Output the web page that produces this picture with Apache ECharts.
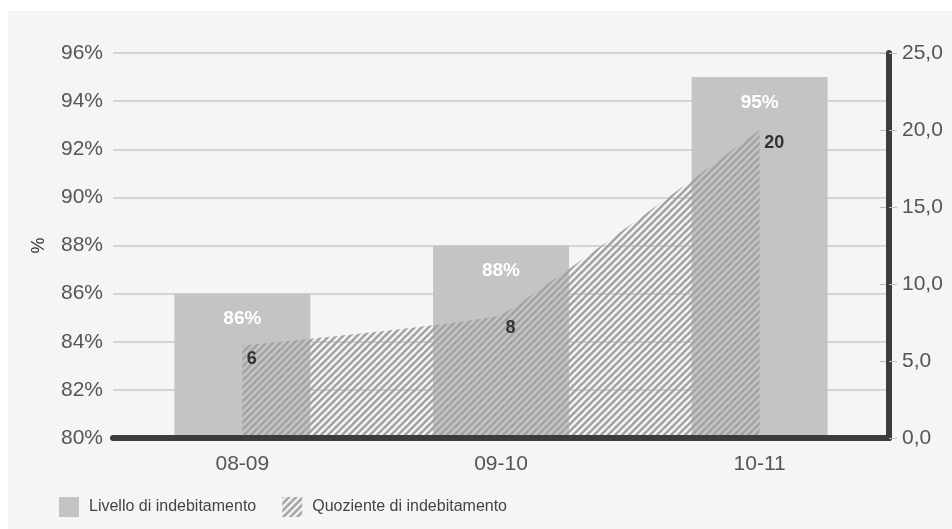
<!DOCTYPE html>
<html>
<head>
<meta charset="utf-8">
<script src="https://cdn.jsdelivr.net/npm/echarts@6/dist/echarts.min.js"></script>
<style>
  html, body { margin: 0; padding: 0; background: #ffffff; }
  #panel { position: absolute; left: 8px; top: 11px; width: 944px; height: 518px; background: #f5f5f5; }
  #chart { position: absolute; left: 0; top: 0; width: 952px; height: 529px; }
</style>
</head>
<body>
<div id="panel"></div>
<div id="chart"></div>
<script>
// Years on the category axis
const categories = ['08-09', '09-10', '10-11'];
// Debt level (%), left axis
const livello = [86, 88, 95];
// Debt ratio, right axis
const quoziente = [6, 8, 20];
// Axis ranges and steps
const leftAxis = { min: 80, max: 96, step: 2 };
const rightAxis = { min: 0, max: 25, step: 5 };

const FONT = '"Liberation Sans", Arial, Helvetica, sans-serif';

// Diagonal hatch tile used for the ratio area and its legend icon
function hatchTile() {
  const s = 7;
  const c = document.createElement('canvas');
  c.width = s; c.height = s;
  const g = c.getContext('2d');
  g.strokeStyle = '#a3a3a3';
  g.lineWidth = 2.6;
  g.lineCap = 'square';
  for (let k = -1; k <= 1; k++) {
    g.beginPath();
    g.moveTo(k * s, s);
    g.lineTo(k * s + s, 0);
    g.stroke();
  }
  return c;
}
const hatch = { image: hatchTile(), repeat: 'repeat' };

const chart = echarts.init(document.getElementById('chart'), null, { renderer: 'canvas' });

chart.setOption({
  backgroundColor: 'transparent',
  animation: false,
  textStyle: { fontFamily: FONT },
  grid: { left: 113, right: 63, top: 53, bottom: 91, containLabel: false },
  legend: {
    left: 59, top: 497, padding: 0,
    itemWidth: 20, itemHeight: 20, itemGap: 26,
    textStyle: { fontFamily: FONT, fontSize: 16, color: '#444', padding: [0, 0, 0, 5] },
    data: [
      { name: 'Livello di indebitamento', icon: 'rect', itemStyle: { color: '#c4c4c4', opacity: 1 } },
      { name: 'Quoziente di indebitamento', icon: 'rect', itemStyle: { color: hatch, opacity: 1 } }
    ]
  },
  xAxis: {
    type: 'category',
    data: categories,
    z: 10,
    axisLine: { show: true, lineStyle: { color: '#3c3c3c', width: 6, cap: 'round' } },
    axisTick: { show: false },
    axisLabel: { color: '#555', fontSize: 21, margin: 16, fontFamily: FONT },
    splitLine: { show: false }
  },
  yAxis: [
    {
      type: 'value',
      min: leftAxis.min, max: leftAxis.max, interval: leftAxis.step,
      name: '%', nameLocation: 'middle', nameGap: 65, nameRotate: 90,
      nameTextStyle: { color: '#333', fontSize: 18, fontFamily: FONT },
      axisLine: { show: false },
      axisTick: { show: false },
      axisLabel: { color: '#555', fontSize: 21, margin: 10, fontFamily: FONT, formatter: v => v + '%' },
      splitLine: { show: true, lineStyle: { color: '#c8c8c8', width: 1.5 } }
    },
    {
      type: 'value',
      position: 'right',
      z: 10,
      min: rightAxis.min, max: rightAxis.max, interval: rightAxis.step,
      axisLine: { show: true, lineStyle: { color: '#3c3c3c', width: 6, cap: 'round' } },
      axisTick: { show: true, length: 8, lineStyle: { color: '#bbbbbb', width: 1 } },
      axisLabel: { color: '#555', fontSize: 21, margin: 13, fontFamily: FONT,
        formatter: v => v.toFixed(1).replace('.', ',') },
      splitLine: { show: false }
    },
    {
      // inner tick marks on the right-hand axis
      type: 'value',
      position: 'right',
      min: rightAxis.min, max: rightAxis.max, interval: rightAxis.step,
      axisLine: { show: false },
      axisTick: { show: true, inside: true, length: 9, lineStyle: { color: '#bbbbbb', width: 1 } },
      axisLabel: { show: false },
      splitLine: { show: false }
    }
  ],
  series: [
    {
      name: 'Livello di indebitamento',
      type: 'bar',
      yAxisIndex: 0,
      data: livello,
      barWidth: 136,
      itemStyle: { color: '#c4c4c4' },
      label: {
        show: true, position: 'insideTop', distance: 16,
        color: '#ffffff', fontWeight: 'bold', fontSize: 19, fontFamily: FONT,
        formatter: p => p.value + '%'
      },
      z: 2
    },
    {
      name: 'Quoziente di indebitamento',
      type: 'line',
      yAxisIndex: 1,
      data: quoziente,
      smooth: 0.08,
      symbol: 'circle',
      symbolSize: 1,
      showSymbol: true,
      lineStyle: { width: 0, color: '#a3a3a3' },
      itemStyle: { color: 'rgba(0,0,0,0)', borderWidth: 0 },
      areaStyle: { color: hatch, opacity: 1 },
      label: {
        show: true, position: 'right', offset: [-1, 13],
        color: '#333', fontWeight: 'bold', fontSize: 18, fontFamily: FONT
      },
      z: 3
    }
  ]
});
</script>
</body>
</html>
